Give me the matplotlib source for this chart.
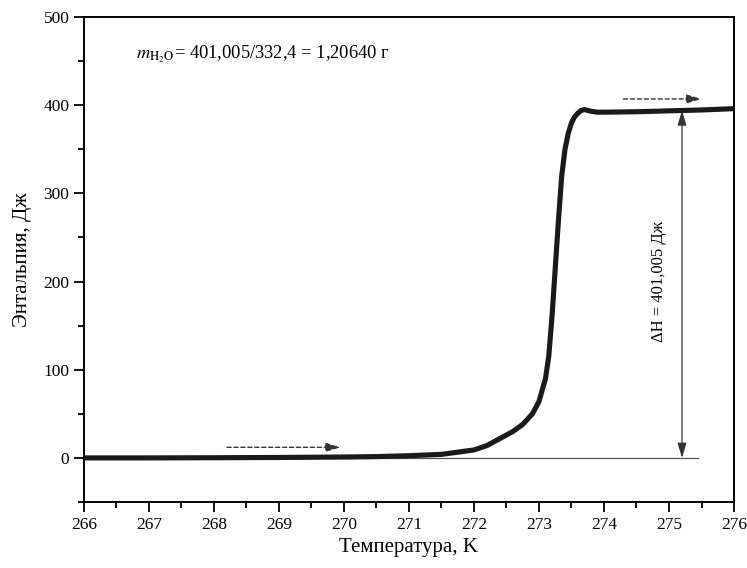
import matplotlib
matplotlib.use("Agg")
import matplotlib.pyplot as plt

plt.rcParams['font.family'] = ['Liberation Serif', 'DejaVu Serif']
plt.rcParams['mathtext.fontset'] = 'stix'

# enthalpy curve
temp = [266, 267, 268, 269, 270, 270.5, 271, 271.5, 272, 272.2, 272.4, 272.6,
        272.75, 272.9, 273.0, 273.1, 273.15, 273.2, 273.25, 273.3, 273.35,
        273.4, 273.45, 273.5, 273.55, 273.6, 273.65, 273.7, 273.8, 273.9,
        274.0, 274.5, 275, 275.5, 276]
enth = [0, 0, 0.2, 0.5, 1, 1.5, 2.5, 4, 9, 14, 22, 30,
        38, 50, 64, 90, 115, 160, 215, 270, 320,
        350, 368, 380, 387, 391, 394, 395, 393, 392,
        392, 392.5, 393.5, 394.5, 396]

base_end = 275.45
dh_x = 275.2
dh_top = 394
arrow_low = (268.2, 269.95, 12)
arrow_high = (274.3, 275.5, 407)

fig = plt.figure(figsize=(7.47, 5.68), dpi=100)
ax = fig.add_axes([0.1124, 0.1162, 0.8702, 0.854])

ax.plot([266, base_end], [0, 0], color='#555555', lw=0.9, zorder=2)
ax.plot(temp, enth, color='#1a1a1a', lw=3.7, solid_capstyle='round', zorder=3)

head = ',head_length=1.0,head_width=0.3'
ax.annotate('', xy=(dh_x, dh_top), xytext=(dh_x, 0),
            arrowprops=dict(arrowstyle='<|-|>' + head,
                            color='#333333', lw=0.9, mutation_scale=9,
                            shrinkA=0, shrinkB=0))
for x0, x1, yy in [arrow_low, arrow_high]:
    ax.annotate('', xy=(x1, yy), xytext=(x0, yy),
                arrowprops=dict(arrowstyle='-|>' + head,
                                color='#333333', lw=1.0,
                                linestyle=(0, (3, 2)), mutation_scale=9,
                                shrinkA=0, shrinkB=0))

ax.text(266.8, 458, r'$m_{\mathrm{H_2O}}$= 401,005/332,4 = 1,20640 г',
        fontsize=13.3, va='center', ha='left')
ax.text(274.85, 200, 'ΔH = 401,005 Дж', rotation=90, fontsize=12,
        va='center', ha='center')

ax.set_xlim(266, 276)
ax.set_ylim(-50, 500)
ax.set_xticks(range(266, 277))
ax.set_xticks([266.5 + i for i in range(10)], minor=True)
ax.set_yticks(range(0, 501, 100))
ax.set_yticks(range(-50, 501, 100), minor=True)
ax.tick_params(which='major', direction='out', length=7, width=1.3,
               labelsize=12.5)
ax.tick_params(which='minor', direction='out', length=4, width=1.3)
for s in ax.spines.values():
    s.set_linewidth(1.4)

ax.set_xlabel('Температура, K', fontsize=15)
ax.set_ylabel('Энтальпия, Дж', fontsize=15, labelpad=8)

fig.savefig('out.png', dpi=100)
